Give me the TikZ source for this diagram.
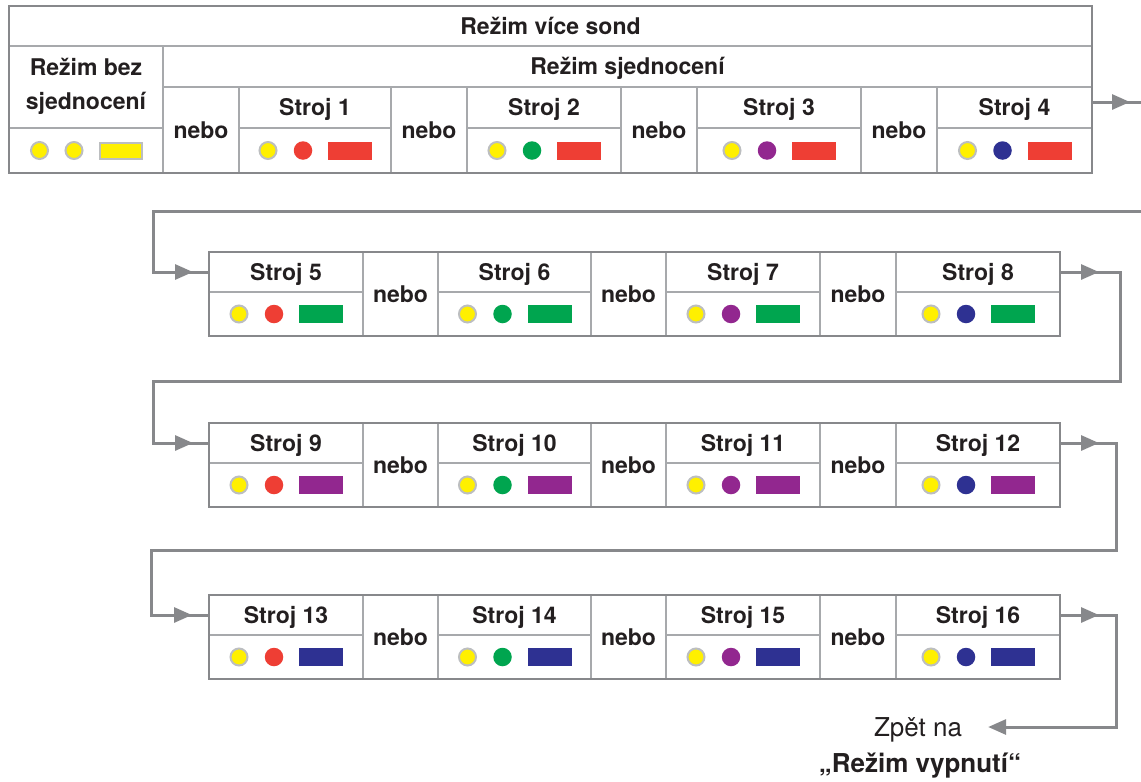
\documentclass[tikz,border=0pt]{standalone}
\usepackage{fontspec}
\setmainfont{TeX Gyre Heros}
\usepackage{tikz}
\usetikzlibrary{arrows.meta, positioning, calc}
\definecolor{ink}{HTML}{231F20}
\definecolor{rule}{HTML}{87888B}
\definecolor{ruleLite}{HTML}{A7A9AC}
\definecolor{ringGray}{HTML}{BCBEC0}
\definecolor{dotYellow}{HTML}{FFF000}
\definecolor{dotRed}{HTML}{EE3E34}
\definecolor{dotGreen}{HTML}{00A54F}
\definecolor{dotPurple}{HTML}{92278F}
\definecolor{dotNavy}{HTML}{2E3192}

\begin{document}
\begin{tikzpicture}[x=1pt, y=-1pt, node distance=0pt,
    font=\fontsize{23pt}{34pt}\selectfont\bfseries, text=ink]
    \tikzset{
      cell/.style={rectangle, draw=ruleLite, line width=1.4pt, inner sep=0pt,
                   outer sep=0pt, anchor=north west, align=center,
                   text height=16.5pt, text depth=0pt},
      frame/.style={draw=rule, line width=2.6pt},
      ring/.style={circle, fill=dotYellow, draw=ringGray, line width=2pt,
                   minimum size=17pt, inner sep=0pt},
      blob/.style={circle, minimum size=18.5pt, inner sep=0pt},
      bar/.style={rectangle, minimum width=44pt, minimum height=18pt, inner sep=0pt},
      link/.style={draw=rule, line width=3pt},
      tip/.style={link, -{Triangle[length=18pt, width=15pt]}},
      note/.style={inner sep=0pt, text height=18.7pt, text depth=0pt}
    }
    \useasboundingbox (0,0) rectangle (1141,782);

    \node[cell, minimum width=1083pt, minimum height=40pt] (hdr) at (9,6) {Režim více sond};
    \node[cell, minimum width=154pt, minimum height=82pt, text height=50.5pt, text depth=6pt] (bez) at (hdr.south west) {Režim bez\\sjednocení};
    \node[cell, minimum width=154pt, minimum height=45pt] (dbez) at (bez.south west) {};
    \node[ring] (ya) at ([xshift=-46.5pt]dbez.center) {};
    \node[ring] (yb) at ([xshift=-12pt]dbez.center) {};
    \node[bar, fill=dotYellow, draw=ringGray, line width=2pt, minimum width=42pt,
          minimum height=16pt] (bb) at ([xshift=35pt]dbez.center) {};
    \node[cell, minimum width=929pt, minimum height=41pt] (sjed) at (bez.north east) {Režim sjednocení};

    \foreach \c/\x/\w/\dotc in {1/239/152/dotRed, 2/467/154/dotGreen, 3/697/164/dotPurple, 4/937/155/dotNavy} {
      \node[cell, minimum width=\w pt, minimum height=41pt] (s\c) at (\x,87) {Stroj \c};
      \node[cell, minimum width=\w pt, minimum height=45pt] (d\c) at (s\c.south west) {};
      \node[ring] (y\c) at ([xshift=-47pt]d\c.center) {};
      \node[blob, fill=\dotc] (c\c) at ([xshift=-12pt]d\c.center) {};
      \node[bar, fill=dotRed] (b\c) at ([xshift=35pt]d\c.center) {};
    }
    \foreach \c/\x in {1/163, 2/391, 3/621, 4/861} {
      \node[cell, minimum width=76pt, minimum height=86pt] (o\c) at (\x,87) {nebo};
    }

    \foreach \r/\top/\barc in {1/252/dotGreen, 2/423/dotPurple, 3/595/dotNavy} {
      \foreach \c/\x/\w/\dotc in {1/209/154/dotRed, 2/438/153/dotGreen, 3/666/154/dotPurple, 4/896/164/dotNavy} {
        \pgfmathtruncatemacro{\k}{4*\r+\c}
        \node[cell, minimum width=\w pt, minimum height=40pt] (s\k) at (\x,\top) {Stroj \k};
        \node[cell, minimum width=\w pt, minimum height=44pt] (d\k) at (s\k.south west) {};
        \node[ring] (y\k) at ([xshift=-47pt]d\k.center) {};
        \node[blob, fill=\dotc] (c\k) at ([xshift=-12pt]d\k.center) {};
        \node[bar, fill=\barc] (b\k) at ([xshift=35pt]d\k.center) {};
      }
      \foreach \c/\x/\w in {1/363/75, 2/591/75, 3/820/76} {
        \pgfmathtruncatemacro{\k}{4*\r+\c}
        \node[cell, minimum width=\w pt, minimum height=84pt] (o\k) at (\x,\top) {nebo};
      }
    }

    \draw[frame] (hdr.north west) rectangle (d4.south east);
    \foreach \a/\b in {5/8, 9/12, 13/16} {
      \draw[frame] (s\a.north west) rectangle (d\b.south east);
    }

    \node[note, font=\fontsize{26pt}{30pt}\selectfont\mdseries] (back) at (918,727) {Zpět na};
    \node[note, font=\fontsize{26pt}{30pt}\selectfont\bfseries] (off) at (920,763) {„Režim vypnutí“};

    \coordinate (out) at (1141,102);
    \coordinate (in) at (1141,211);
    \draw[link] ([yshift=5.5pt]s4.east) -- (out);
    \draw[tip] ([yshift=5.5pt]s4.east) -- ([xshift=-11pt]out);
    \draw[link] (in) -- (153,211) |- (s5.west);
    \draw[tip] ([xshift=-56pt]s5.west) -- ([xshift=-16pt]s5.west);
    \draw[link] (s8.east) -- ++(60,0) |- (153,381) |- (s9.west);
    \draw[tip] (s8.east) -- ++(39,0);
    \draw[tip] ([xshift=-56pt]s9.west) -- ([xshift=-16pt]s9.west);
    \draw[link] (s12.east) -- ++(56,0) |- (151,550) |- (s13.west);
    \draw[tip] (s12.east) -- ++(39,0);
    \draw[tip] ([xshift=-58pt]s13.west) -- ([xshift=-17pt]s13.west);
    \draw[tip] (s16.east) -- ++(56,0) |- ([xshift=26pt]back.east);
    \draw[tip] (s16.east) -- ++(39,0);
  \end{tikzpicture}
\end{document}
